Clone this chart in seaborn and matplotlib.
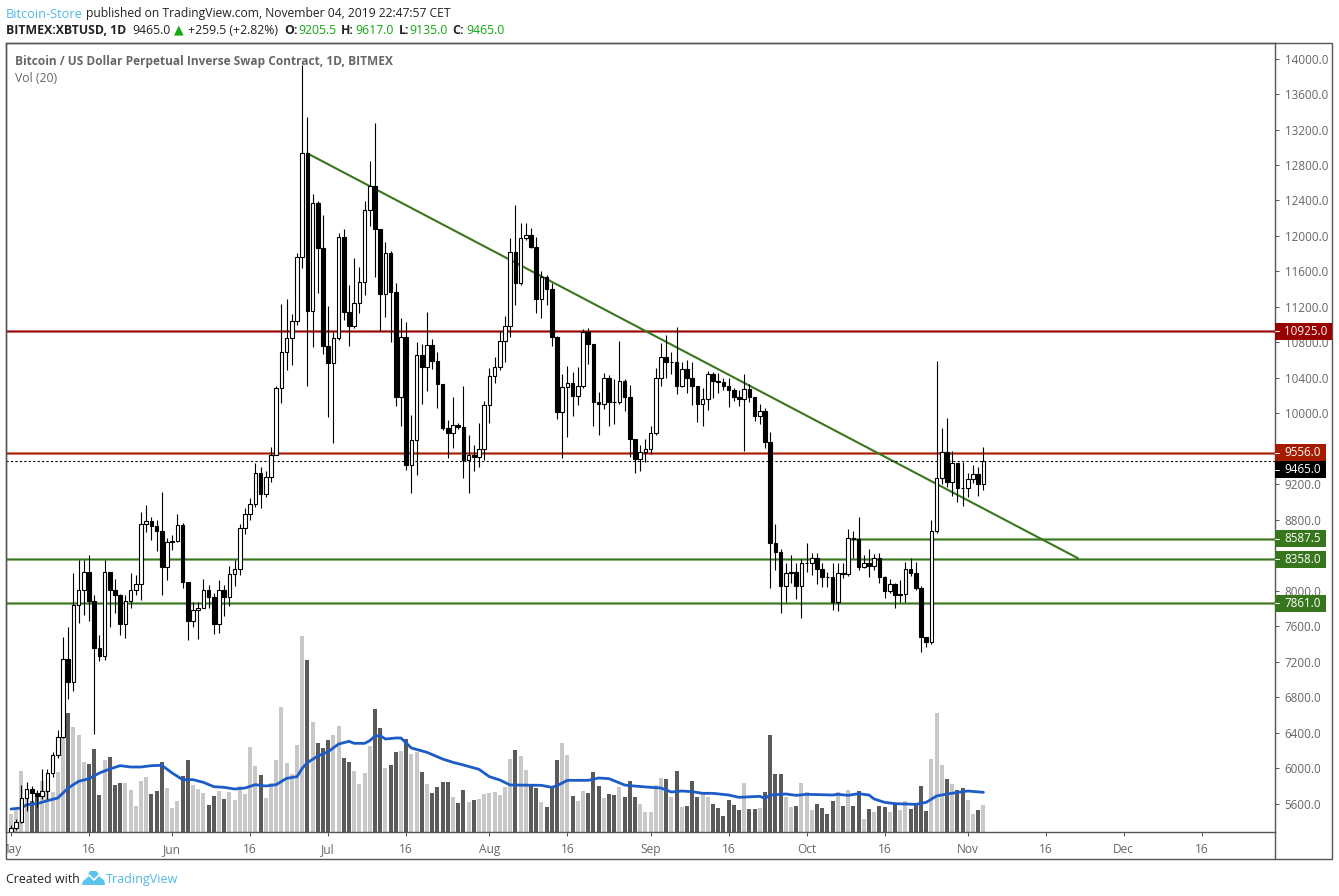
import matplotlib
matplotlib.use("Agg")
import matplotlib.pyplot as plt
from matplotlib.patches import Rectangle, Polygon
from matplotlib.transforms import Affine2D, Bbox
import pandas as pd
import seaborn as sns

# daily candles, 1 May 2019 to 4 Nov 2019
first_open = 5279
closes = [5324, 5391, 5662, 5771, 5726, 5692, 5748, 5944, 6147, 6350,
          7229, 6977, 7837, 8006, 8209, 7890, 7360, 7263, 8209, 8014,
          7958, 7631, 7882, 8006, 8074, 8750, 8784, 8728, 8671, 8273,
          8547, 8562, 8739, 8104, 7665, 7789, 7811, 8006, 7928, 7631,
          8014, 7928, 8187, 8243, 8705, 8863, 8976, 9330, 9089, 9287,
          9531, 10282, 10696, 10846, 11045, 11759, 12931, 11158, 12375, 11868,
          10763, 10572, 10846, 11984, 11146, 10989, 11240, 11477, 12289, 12559,
          12082, 11342, 11804, 11372, 10188, 10857, 9422, 9696, 10654, 10527,
          10767, 10594, 10327, 9839, 9775, 9873, 9850, 9475, 9535, 9505,
          9595, 10091, 10418, 10527, 10820, 10981, 11815, 11466, 11980, 12014,
          11872, 11285, 11533, 11398, 10857, 10019, 10294, 10346, 10200, 10313,
          10921, 10778, 10132, 10102, 10403, 10132, 10125, 10369, 10181, 9708,
          9490, 9569, 9603, 9776, 10395, 10632, 10583, 10585, 10313, 10497,
          10403, 10313, 10102, 10166, 10441, 10369, 10358, 10313, 10264, 10189,
          10166, 10279, 10181, 9975, 10031, 9682, 8536, 8434, 8059, 8198,
          8209, 8059, 8310, 8318, 8374, 8243, 8160, 8155, 7871, 8205,
          8187, 8592, 8588, 8273, 8310, 8284, 8367, 8160, 8002, 8074,
          7954, 7960, 8243, 8205, 8029, 7476, 7428, 8671, 9269, 9562,
          9231, 9438, 9163, 9155, 9257, 9314, 9205.5, 9465]
highs = [5362, 5425, 5812, 5850, 5801, 5756, 5993, 5989, 6188, 6432,
         7484, 7589, 8198, 8348, 8348, 8401, 7954, 7503, 8348, 8209,
         8134, 7961, 7954, 8198, 8179, 8893, 8968, 8837, 8799, 9115,
         8593, 8630, 8867, 8762, 8104, 7879, 7879, 8134, 8067, 7973,
         8123, 8067, 8281, 8348, 8754, 8931, 9050, 9440, 9400, 9350,
         9625, 10305, 11233, 11293, 11116, 11811, 13927, 13337, 12469, 12394,
         12236, 11214, 10921, 12029, 12078, 11447, 11748, 11646, 12394, 12841,
         13269, 12082, 11935, 11834, 11466, 11071, 11034, 9982, 10801, 10778,
         11143, 10835, 10688, 10327, 9925, 10188, 9895, 10309, 9753, 9644,
         9888, 10143, 10508, 10632, 10932, 11098, 11980, 12349, 12142, 12150,
         12086, 11992, 11608, 11560, 11466, 10872, 10444, 10534, 10470, 10519,
         10947, 10959, 10778, 10238, 10459, 10433, 10388, 10816, 10388, 10320,
         9708, 9644, 9708, 9858, 10508, 10790, 10884, 10688, 10970, 10583,
         10602, 10576, 10313, 10283, 10478, 10463, 10459, 10403, 10395, 10283,
         10264, 10440, 10328, 10189, 10102, 10057, 9787, 8754, 8468, 8310,
         8404, 8310, 8356, 8543, 8423, 8431, 8310, 8217, 8310, 8310,
         8310, 8697, 8675, 8829, 8404, 8468, 8412, 8423, 8168, 8134,
         8085, 8123, 8322, 8367, 8322, 8055, 7476, 8799, 10591, 9832,
         9945, 9577, 9438, 9456, 9325, 9419, 9400, 9617]
lows = [5270, 5305, 5380, 5523, 5625, 5568, 5651, 5650, 5906, 6113,
        6340, 6782, 6876, 7642, 7728, 7665, 6387, 7210, 7221, 7597,
        7747, 7503, 7473, 7811, 7954, 7897, 8668, 8574, 8454, 7954,
        8123, 8461, 8555, 8036, 7447, 7597, 7462, 7804, 7804, 7514,
        7529, 7721, 7830, 8055, 8179, 8641, 8799, 8950, 8938, 9060,
        9230, 10113, 10121, 10489, 10545, 10996, 11635, 10309, 10752, 11353,
        10669, 9963, 9662, 10830, 11052, 10763, 10966, 11128, 11334, 12112,
        11541, 10932, 11090, 10808, 10087, 9862, 9362, 9099, 9306, 10106,
        10256, 10500, 10057, 9813, 9493, 9606, 9830, 9268, 9106, 9354,
        9392, 9475, 9895, 10339, 10489, 10583, 10865, 11222, 11447, 11950,
        11860, 11135, 11079, 11222, 10763, 9933, 9493, 9738, 9971, 10094,
        10290, 10557, 9862, 9757, 10050, 9862, 9881, 10110, 10031, 9513,
        9332, 9355, 9449, 9543, 9760, 10313, 10395, 10440, 10215, 10300,
        10226, 10095, 9907, 9862, 10038, 10177, 10234, 10264, 10076, 10144,
        10087, 9580, 10132, 9915, 9880, 9614, 8029, 8235, 7754, 7878,
        8090, 7909, 7698, 8217, 8179, 8078, 8040, 8040, 7785, 7777,
        8150, 8170, 8367, 8240, 8262, 8160, 8235, 8093, 7924, 7980,
        7811, 7878, 7878, 8168, 8015, 7315, 7371, 7397, 8656, 9200,
        9175, 9073, 9006, 8957, 9062, 9220, 9073, 9135]
# volume has no scale in the picture, so relative units
volumes = [55, 65, 184, 100, 94, 107, 154, 125, 119, 179,
           287, 358, 316, 292, 211, 205, 250, 112, 217, 226,
           142, 148, 148, 127, 79, 154, 166, 115, 124, 211,
           133, 73, 94, 169, 217, 142, 130, 118, 82, 109,
           124, 100, 121, 97, 139, 115, 256, 199, 172, 103,
           146, 216, 375, 207, 174, 261, 588, 516, 330, 267,
           252, 276, 291, 318, 222, 210, 183, 144, 177, 258,
           369, 312, 192, 201, 240, 243, 279, 234, 240, 180,
           144, 117, 135, 150, 150, 105, 87, 126, 90, 96,
           99, 114, 117, 120, 111, 135, 219, 246, 228, 186,
           141, 132, 90, 75, 132, 216, 267, 231, 108, 93,
           123, 117, 180, 138, 102, 114, 111, 135, 105, 153,
           105, 84, 60, 60, 141, 162, 159, 105, 183, 75,
           78, 153, 105, 117, 105, 84, 72, 48, 96, 81,
           66, 147, 69, 69, 72, 120, 291, 174, 174, 105,
           75, 78, 147, 120, 66, 84, 72, 54, 93, 120,
           78, 126, 78, 123, 39, 69, 60, 78, 75, 60,
           87, 66, 93, 69, 81, 138, 63, 219, 357, 201,
           159, 144, 126, 132, 96, 54, 66, 81]
# Vol (20) average line, read at these days
ma_days = [0, 2, 3, 5, 7, 9, 11, 13, 15, 17, 19, 21, 23, 25, 27, 29, 31, 33, 35, 37,
           39, 41, 43, 45, 47, 49, 51, 53, 55, 56, 57, 58, 59, 61, 63, 65, 66, 68, 69,
           70, 71, 72, 74, 75, 77, 80, 83, 85, 87, 90, 92, 94, 96, 102, 104, 105, 107,
           111, 113, 115, 118, 119, 123, 125, 127, 129, 131, 133, 135, 138, 140, 144,
           145, 146, 149, 151, 153, 158, 159, 161, 163, 165, 166, 168, 170, 174, 176,
           178, 180, 184, 187]
ma_values = [69, 72, 82, 85, 94, 102, 132, 152, 160, 177, 189, 199, 195, 195, 199, 200,
             177, 157, 157, 149, 136, 134, 129, 132, 142, 138, 142, 161, 166, 191, 208,
             218, 228, 241, 264, 272, 266, 266, 274, 288, 289, 279, 282, 282, 252, 239,
             219, 209, 201, 188, 166, 156, 141, 140, 134, 139, 155, 155, 162, 160, 141,
             139, 134, 132, 120, 123, 121, 116, 116, 111, 104, 107, 101, 111, 114, 110,
             113, 111, 113, 110, 115, 111, 99, 89, 85, 83, 89, 108, 114, 123, 119]

price_ticks = [5600, 6000, 6400, 6800, 7200, 7600, 8000, 8400, 8800, 9200, 9600, 10000,
               10400, 10800, 11200, 11600, 12000, 12400, 12800, 13200, 13600, 14000]
date_ticks = [0, 15, 31, 46, 61, 76, 92, 107, 123, 138, 153, 168, 184, 199, 214, 229]
date_labels = ['May', '16', 'Jun', '16', 'Jul', '16', 'Aug', '16', 'Sep', '16', 'Oct', '16',
               'Nov', '16', 'Dec', '16']

resistance = [10925.0, 9556.0]
support = [8358.0, 7861.0]
support_short = 8587.5
support_short_start = 161.5
last_price = 9465.0
trend_days = [57, 205.2]
trend_prices = [12931, 8368]

W, H = 1339, 896
FONT = 'Open Sans'
GREY = '#666666'
FRAME = '#555555'
DARK_RED = '#990000'
RED = '#a61c00'
GREEN = '#38761d'
TV_BLUE = '#4fb9e8'
UP_GREEN = '#12a812'

sns.set_style('white')
plt.rcParams['font.family'] = [FONT, 'DejaVu Sans']

df = pd.DataFrame({'day': range(len(closes)), 'close': closes, 'high': highs, 'low': lows,
                   'volume': volumes})
df['open'] = [first_open] + closes[:-1]
df['direction'] = ['up' if c >= o else 'down' for o, c in zip(df['open'], df['close'])]

fig = plt.figure(figsize=(W / 100, H / 100), dpi=100, facecolor='white')
ax = fig.add_axes([6 / W, 1 - 832 / H, 1269 / W, 789 / H])
ax_vol = ax.twinx()
ax.set_zorder(ax_vol.get_zorder() + 1)
ax.patch.set_visible(False)

# volume bars and their average
sns.barplot(data=df, x='day', y='volume', hue='direction', dodge=False, native_scale=True,
            palette={'up': '#c8c8c8', 'down': '#5a5a5a'}, width=0.78, legend=False,
            saturation=1, linewidth=0, ax=ax_vol)
sns.lineplot(x=ma_days, y=ma_values, color='#1c5cc8', lw=2.0, ax=ax_vol, errorbar=None)
ax_vol.set_ylim(0, 789 * 3)
ax_vol.set_axis_off()

# drawing tools sit under the candles
for price, col in zip(resistance, [DARK_RED, RED]):
    ax.axhline(price, color=col, lw=2.2, alpha=0.5, zorder=1)
    ax.axhline(price, color=col, lw=0.9, zorder=1)
for price in support:
    ax.axhline(price, color=GREEN, lw=2.2, alpha=0.5, zorder=1)
    ax.axhline(price, color=GREEN, lw=0.9, zorder=1)
ax.plot([support_short_start, 244], [support_short] * 2, color=GREEN, lw=2.2, alpha=0.5, zorder=1)
ax.plot([support_short_start, 244], [support_short] * 2, color=GREEN, lw=0.9, zorder=1)
ax.plot(trend_days, trend_prices, color=GREEN, lw=1.5, zorder=1.5)
ax.axhline(last_price, color='black', lw=0.8, ls=(0, (2, 2)), zorder=1.5)

# candles
ax.vlines(df['day'], df['low'], df['high'], color='black', lw=0.8, zorder=3)
colours = ['white' if d == 'up' else 'black' for d in df['direction']]
ax.bar(df['day'], df['close'] - df['open'], bottom=df['open'], width=0.68, color=colours,
       edgecolor='black', linewidth=0.8, zorder=4)

ax.set_xlim(-0.96, 243.08)
ax.set_ylim(5283, 14175)
ax.yaxis.tick_right()
ax.set_yticks(price_ticks)
ax.set_yticklabels([f'{p:.1f}' for p in price_ticks])
ax.set_xticks(date_ticks)
ax.set_xticklabels(date_labels)
ax.tick_params(axis='y', length=3, width=0.7, color=FRAME, labelcolor=GREY, labelsize=8.4, pad=4,
               right=True, labelright=True, left=False, labelleft=False)
ax.tick_params(axis='x', length=3, width=0.7, color=FRAME, labelcolor=GREY, labelsize=8.6, pad=5,
               bottom=True)
for spine in ax.spines.values():
    spine.set_color(FRAME)
    spine.set_linewidth(1.0)
ax.set_xlabel('')
ax.set_ylabel('')

# "May" runs into the left frame
ax.get_xticklabels()[0].set_clip_box(Bbox([[7, 0], [W, H]]))
ax.get_xticklabels()[0].set_clip_on(True)

# price boxes on the scale, the last price box is pushed down below its neighbour
side = ax.get_yaxis_transform()
boxes = [(10925.0, 10925.0, DARK_RED, 57), (9556.0, 9556.0, RED, 51), (9465.0, 9366.0, 'black', 51),
         (8587.5, 8587.5, GREEN, 51), (8358.0, 8358.0, GREEN, 51), (7861.0, 7861.0, GREEN, 51)]
for price, box_y, col, width in boxes:
    ax.add_patch(Rectangle((1, box_y - 95), width / 1269, 190, transform=side, facecolor=col,
                           edgecolor='none', clip_on=False, zorder=10))
    ax.plot([1, 1 + 4 / 1269], [box_y, box_y], transform=side, color='white', lw=0.7,
            clip_on=False, zorder=11)
    ax.text(1 + 9 / 1269, box_y, f'{price:.1f}', transform=side, color='white', fontsize=8.4,
            va='center', ha='left', clip_on=False, zorder=12)

# page furniture is placed in pixels, y down
to_page = Affine2D().scale(1 / W, -1 / H).translate(0, 1) + fig.transFigure
fig.add_artist(Rectangle((6, 43), 1326, 816, transform=to_page, fill=False, edgecolor=FRAME,
                         lw=1.0))
fig.add_artist(plt.Line2D([1275, 1275], [832, 859], transform=to_page, color=FRAME, lw=1.0))


def page_text(x, y, s, color='#222222', size=8.8, weight='normal', **kw):
    fig.text(x / W, 1 - y / H, s, color=color, fontsize=size, fontweight=weight, va='center',
             ha='left', **kw)


page_text(6, 14, 'Bitcoin-Store', color=TV_BLUE, size=9.2)
page_text(86, 14, 'published on TradingView.com, November 04, 2019 22:47:57 CET', size=8.75)
page_text(6, 30, 'BITMEX:XBTUSD, 1D', weight='bold')
page_text(132, 30, '9465.0')
page_text(174, 30, '\u25b2', color=UP_GREEN, size=9, family='DejaVu Sans')
page_text(188, 30, '+259.5 (+2.82%)')
page_text(284, 30, 'O:', weight='bold')
page_text(298, 30, '9205.5', color=UP_GREEN)
page_text(341, 30, 'H:', weight='bold')
page_text(355, 30, '9617.0', color=UP_GREEN)
page_text(399, 30, 'L:', weight='bold')
page_text(409, 30, '9135.0', color=UP_GREEN)
page_text(452, 30, 'C:', weight='bold')
page_text(466, 30, '9465.0', color=UP_GREEN)
page_text(15, 61, 'Bitcoin / US Dollar Perpetual Inverse Swap Contract, 1D, BITMEX', color=GREY,
          weight='bold', size=8.6)
page_text(15, 78, 'Vol (20)', color=GREY)
page_text(6, 879, 'Created with', size=8.9)
page_text(106, 879, 'TradingView', color=TV_BLUE, size=9)

# logo
fig.add_artist(Polygon([(82, 885), (83, 879), (87, 876), (90, 871), (96, 871), (100, 875),
                        (104, 878), (105, 885)], closed=True, transform=to_page,
                       facecolor='#5ac4ec', edgecolor='none'))
fig.add_artist(plt.Line2D([82, 89, 94, 99, 105], [881, 875, 880, 875, 880], transform=to_page,
                          color='white', lw=1.2))

fig.savefig('out.png', dpi=100)
